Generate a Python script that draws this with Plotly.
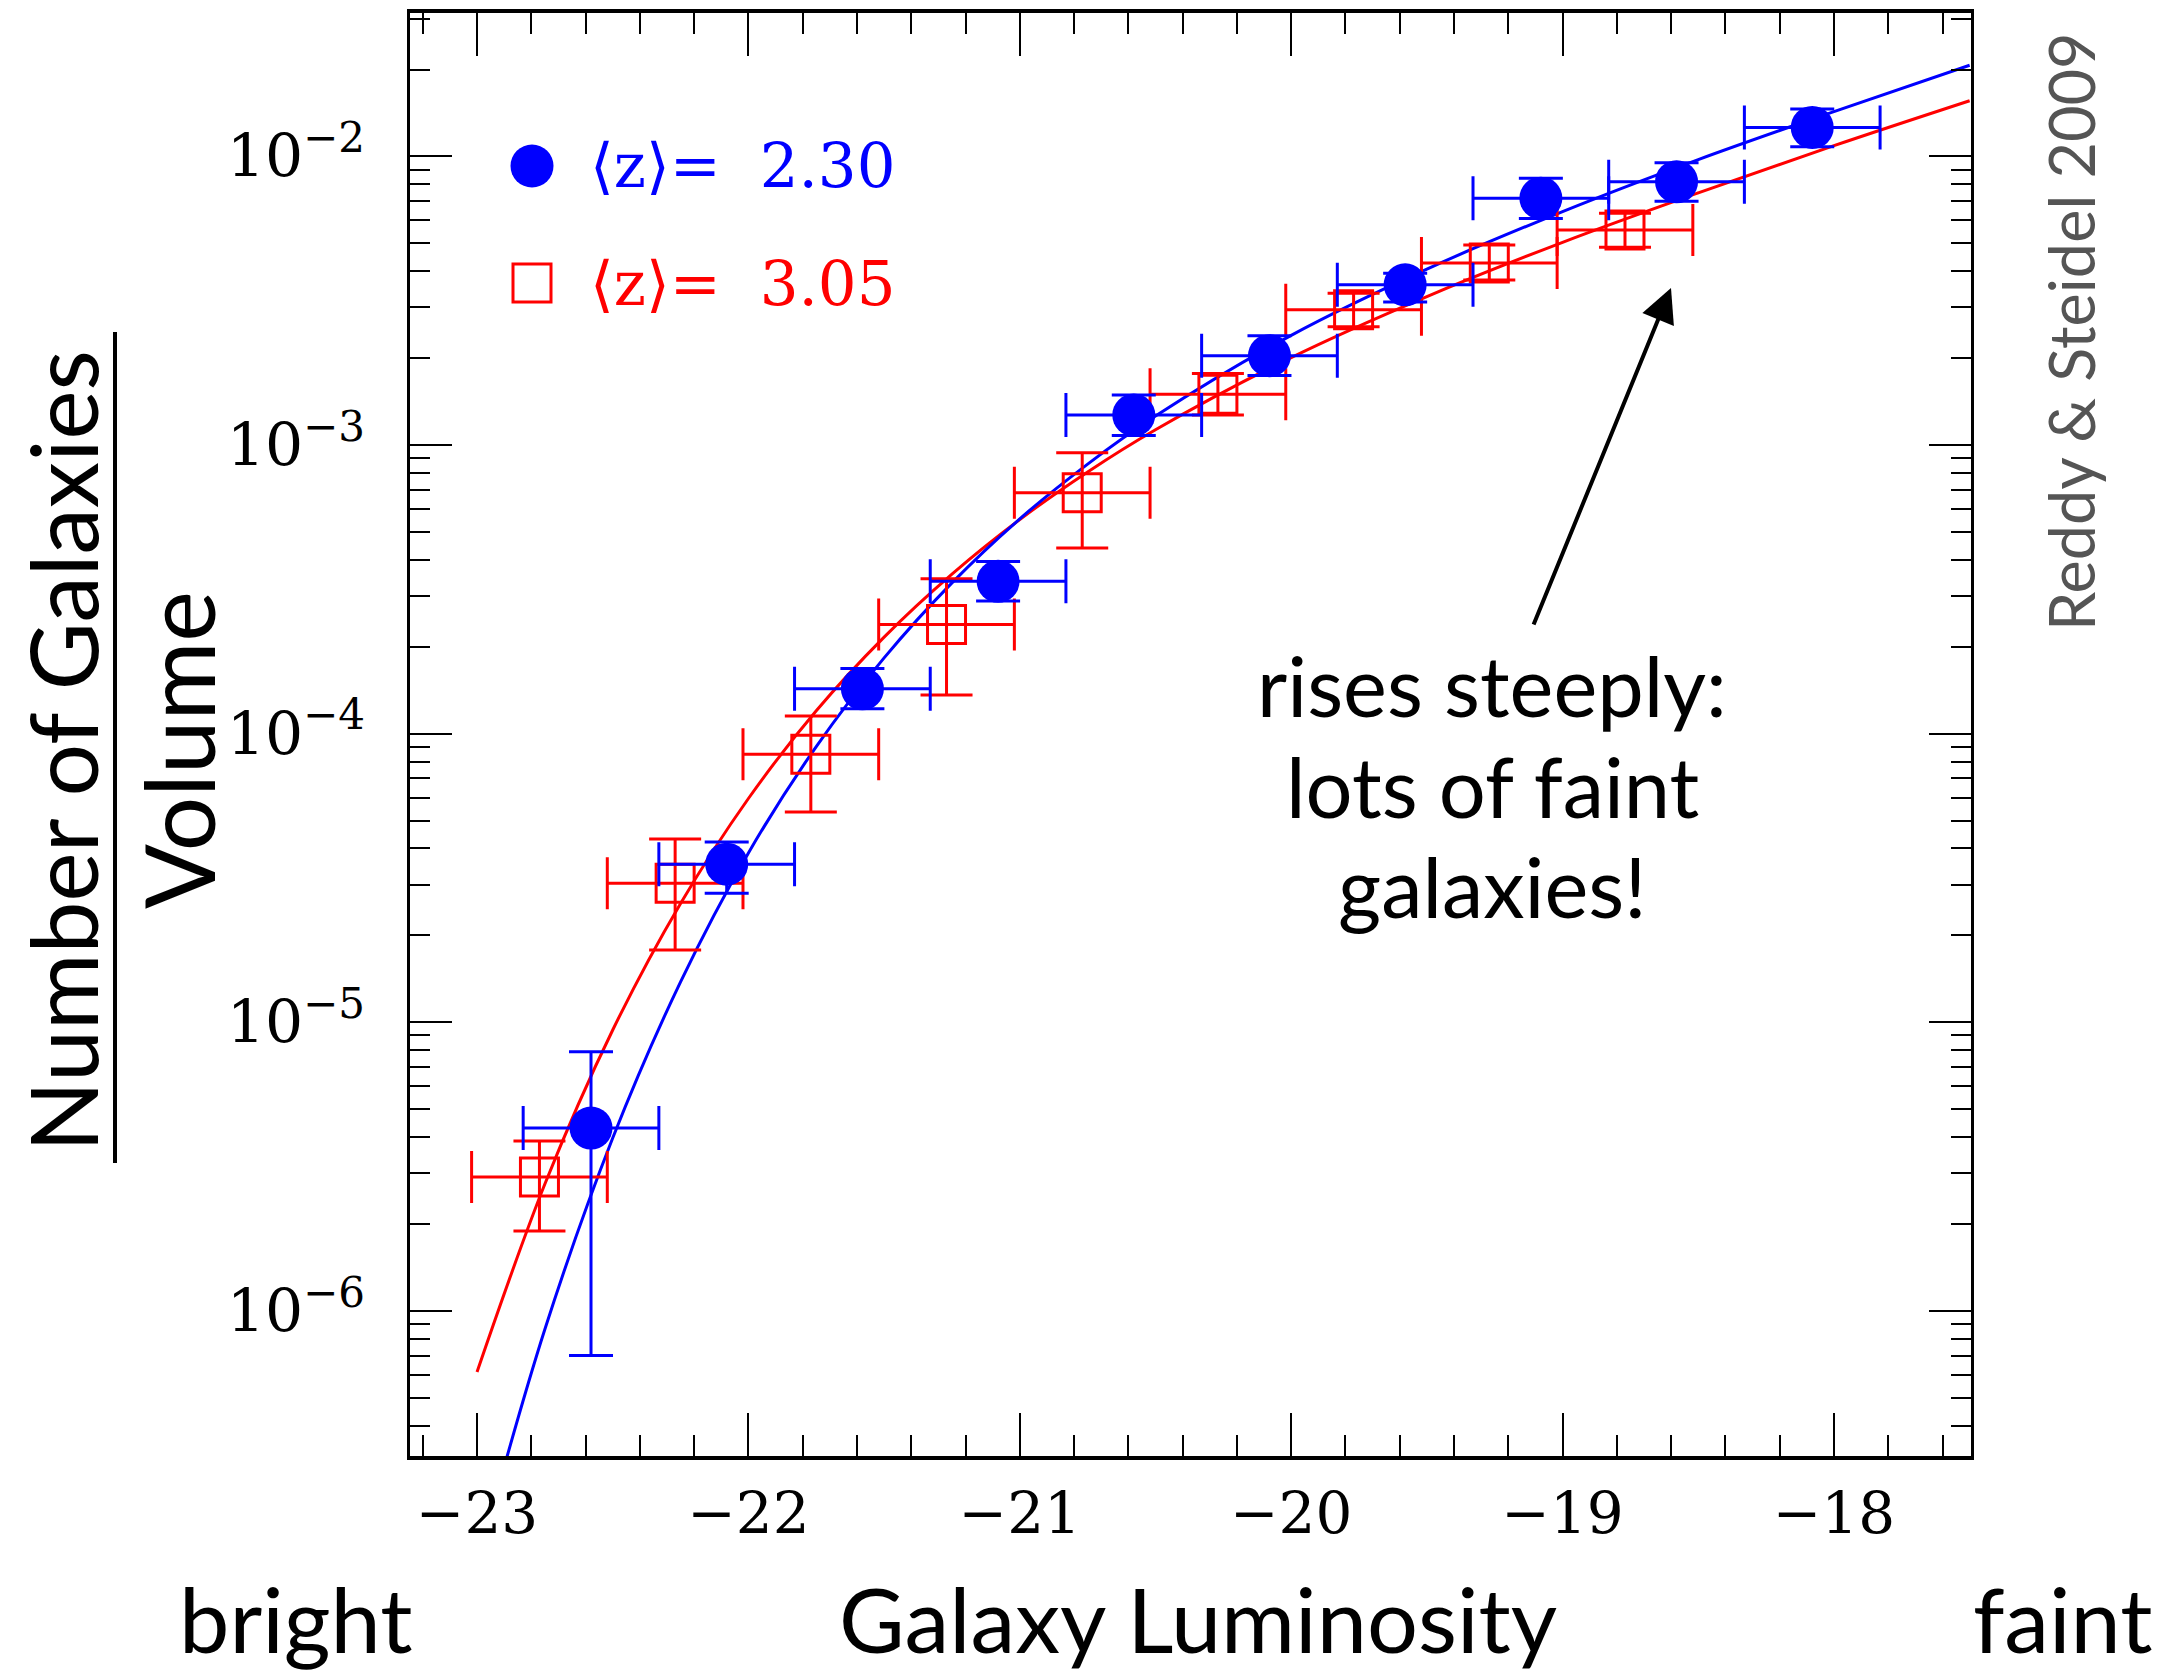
import plotly.graph_objects as go

# ---------------- data ----------------
blue_M = [-22.58, -22.08, -21.58, -21.08, -20.58, -20.08, -19.58, -19.08, -18.58, -18.08]
blue_phi = [4.3e-6, 3.53e-5, 1.43e-4, 3.37e-4, 1.27e-3, 2.04e-3, 3.59e-3, 7.17e-3, 8.17e-3, 1.26e-2]
blue_hi = [7.9e-6, 4.21e-5, 1.68e-4, 3.95e-4, 1.49e-3, 2.39e-3, 3.94e-3, 8.4e-3, 9.5e-3, 1.46e-2]
blue_lo = [7.0e-7, 2.80e-5, 1.22e-4, 2.88e-4, 1.08e-3, 1.74e-3, 3.13e-3, 6.1e-3, 7.0e-3, 1.08e-2]
blue_dM = [0.25] * 10

red_M = [-22.77, -22.27, -21.77, -21.27, -20.77, -20.27, -19.77, -19.27, -18.77]
red_phi = [2.91e-6, 3.03e-5, 8.49e-5, 2.39e-4, 6.83e-4, 1.50e-3, 2.94e-3, 4.27e-3, 5.56e-3]
red_hi = [3.88e-6, 4.31e-5, 1.15e-4, 3.44e-4, 9.4e-4, 1.77e-3, 3.36e-3, 4.93e-3, 6.35e-3]
red_lo = [1.89e-6, 1.78e-5, 5.35e-5, 1.36e-4, 4.4e-4, 1.27e-3, 2.57e-3, 3.73e-3, 4.85e-3]
red_dM = [0.25] * 9

fit_M = [-23.0, -22.75, -22.5, -22.25, -22.0, -21.75, -21.5, -21.25, -21.0,
         -20.75, -20.5, -20.0, -19.5, -19.0, -18.5, -18.0, -17.5]
fit_blue = [1.32e-7, 8.63e-7, 3.97e-6, 1.38e-5, 3.86e-5, 9.02e-5, 1.83e-4, 3.33e-4, 5.55e-4,
            8.59e-4, 1.26e-3, 2.40e-3, 4.07e-3, 6.44e-3, 9.75e-3, 1.43e-2, 2.07e-2]
fit_red = [6.14e-7, 2.75e-6, 9.40e-6, 2.58e-5, 5.96e-5, 1.20e-4, 2.16e-4, 3.57e-4, 5.52e-4,
           8.07e-4, 1.13e-3, 2.01e-3, 3.27e-3, 5.04e-3, 7.48e-3, 1.09e-2, 1.56e-2]

x_tickvals = [-23, -22, -21, -20, -19, -18]
x_ticktext = ["\u221223", "\u221222", "\u221221", "\u221220", "\u221219", "\u221218"]
y_tickvals = [1e-6, 1e-5, 1e-4, 1e-3, 1e-2]
y_ticktext = ["10<sup>\u22126</sup>", "10<sup>\u22125</sup>", "10<sup>\u22124</sup>",
              "10<sup>\u22123</sup>", "10<sup>\u22122</sup>"]

legend_labels = ["\u27e8z\u27e9=  2.30", "\u27e8z\u27e9=  3.05"]
note_lines = ["rises steeply:", "lots of faint", "galaxies!"]

# ---------------- geometry helpers (pixel -> paper) ----------------
W, H = 2170, 1676
X0, X1, Y0, Y1 = 410, 1971, 13, 1456


def px(x):
    return (x - X0) / (X1 - X0)


def py(y):
    return (Y1 - y) / (Y1 - Y0)


BLUE = "#0000ff"
RED = "#ff0000"
SANS = "Lato, 'Noto Sans', sans-serif"
SERIF = "'DejaVu Serif', serif"

fig = go.Figure()

fig.add_trace(go.Scatter(x=fit_M, y=fit_red, mode="lines",
                         line=dict(color=RED, width=3, shape="spline"), showlegend=False))
fig.add_trace(go.Scatter(x=fit_M, y=fit_blue, mode="lines",
                         line=dict(color=BLUE, width=3, shape="spline"), showlegend=False))

fig.add_trace(go.Scatter(
    x=red_M, y=red_phi, mode="markers",
    marker=dict(symbol="square-open", size=38, color=RED, line=dict(width=3, color=RED)),
    error_x=dict(type="data", array=red_dM, color=RED, thickness=3, width=26),
    error_y=dict(type="data", array=[h - v for h, v in zip(red_hi, red_phi)],
                 arrayminus=[v - l for v, l in zip(red_phi, red_lo)],
                 color=RED, thickness=3, width=26),
    showlegend=False))

fig.add_trace(go.Scatter(
    x=blue_M, y=blue_phi, mode="markers",
    marker=dict(symbol="circle", size=43, color=BLUE, line=dict(width=0)),
    error_x=dict(type="data", array=blue_dM, color=BLUE, thickness=3, width=22),
    error_y=dict(type="data", array=[h - v for h, v in zip(blue_hi, blue_phi)],
                 arrayminus=[v - l for v, l in zip(blue_phi, blue_lo)],
                 color=BLUE, thickness=3, width=22),
    showlegend=False))

fig.update_xaxes(
    range=[-23.247, -17.495], showgrid=False, zeroline=False,
    showline=True, linecolor="black", linewidth=3.5, mirror="allticks",
    ticks="inside", ticklen=43, tickwidth=2, tickcolor="black",
    tickvals=x_tickvals, ticktext=x_ticktext,
    tickfont=dict(family=SERIF, size=58, color="black"), ticklabelstandoff=4,
    minor=dict(dtick=0.2, tick0=-23, ticks="inside", ticklen=21, tickwidth=2,
               tickcolor="black", showgrid=False),
)
fig.update_yaxes(
    type="log", range=[-6.503, -1.503], showgrid=False, zeroline=False,
    showline=True, linecolor="black", linewidth=3, mirror="allticks",
    ticks="inside", ticklen=42, tickwidth=2, tickcolor="black",
    tickvals=y_tickvals, ticktext=y_ticktext,
    tickfont=dict(family=SERIF, size=60, color="black"), ticklabelstandoff=30,
    minor=dict(dtick="D1", ticks="inside", ticklen=20, tickwidth=2,
               tickcolor="black", showgrid=False),
)

shapes = [
    dict(type="line", xref="paper", yref="paper", x0=px(115), x1=px(115), y0=py(332), y1=py(1163),
         line=dict(color="black", width=4)),
    dict(type="circle", xref="paper", yref="paper", x0=px(510.5), x1=px(553.5),
         y0=py(187.5), y1=py(144.5), fillcolor=BLUE, line=dict(width=0)),
    dict(type="rect", xref="paper", yref="paper", x0=px(513), x1=px(551),
         y0=py(302), y1=py(264), fillcolor="rgba(0,0,0,0)", line=dict(color=RED, width=3)),
]

annotations = [
    dict(text=legend_labels[0], x=px(588), y=py(166), xanchor="left", yanchor="middle",
         font=dict(family=SERIF, size=61, color=BLUE)),
    dict(text=legend_labels[1], x=px(588), y=py(283), xanchor="left", yanchor="middle",
         font=dict(family=SERIF, size=61, color=RED)),
    dict(text="Number of Galaxies", x=px(62), y=py(751), textangle=-90,
         xanchor="center", yanchor="middle", font=dict(family=SANS, size=93, color="black")),
    dict(text="Volume", x=px(177), y=py(750), textangle=-90,
         xanchor="center", yanchor="middle", font=dict(family=SANS, size=96, color="black")),
    dict(text="Galaxy Luminosity", x=px(1198), y=py(1618), xanchor="center", yanchor="middle",
         font=dict(family=SANS, size=90, color="black")),
    dict(text="bright", x=px(295), y=py(1618), xanchor="center", yanchor="middle",
         font=dict(family=SANS, size=90, color="black")),
    dict(text="faint", x=px(2062), y=py(1618), xanchor="center", yanchor="middle",
         font=dict(family=SANS, size=90, color="black")),
    dict(text="Reddy & Steidel 2009", x=px(2070), y=py(332), textangle=-90,
         xanchor="center", yanchor="middle", font=dict(family=SANS, size=63, color="#555555")),
    dict(text="", x=px(1671), y=py(288), ax=-138, ay=338, axref="pixel", ayref="pixel",
         showarrow=True, arrowhead=2, arrowsize=1.7, arrowwidth=4, arrowcolor="black",
         standoff=0),
]
for line_text, ypix in zip(note_lines, [685, 786, 886]):
    annotations.append(dict(text=line_text, x=px(1492), y=py(ypix), xanchor="center",
                            yanchor="middle", font=dict(family=SANS, size=83, color="black")))
for a in annotations:
    a.setdefault("xref", "paper")
    a.setdefault("yref", "paper")
    a.setdefault("showarrow", False)

fig.update_layout(
    width=W, height=H, autosize=False,
    margin=dict(l=X0, r=W - X1, t=Y0, b=H - Y1, autoexpand=False),
    paper_bgcolor="white", plot_bgcolor="white",
    shapes=shapes, annotations=annotations, showlegend=False,
)

fig.write_html("out.html")
